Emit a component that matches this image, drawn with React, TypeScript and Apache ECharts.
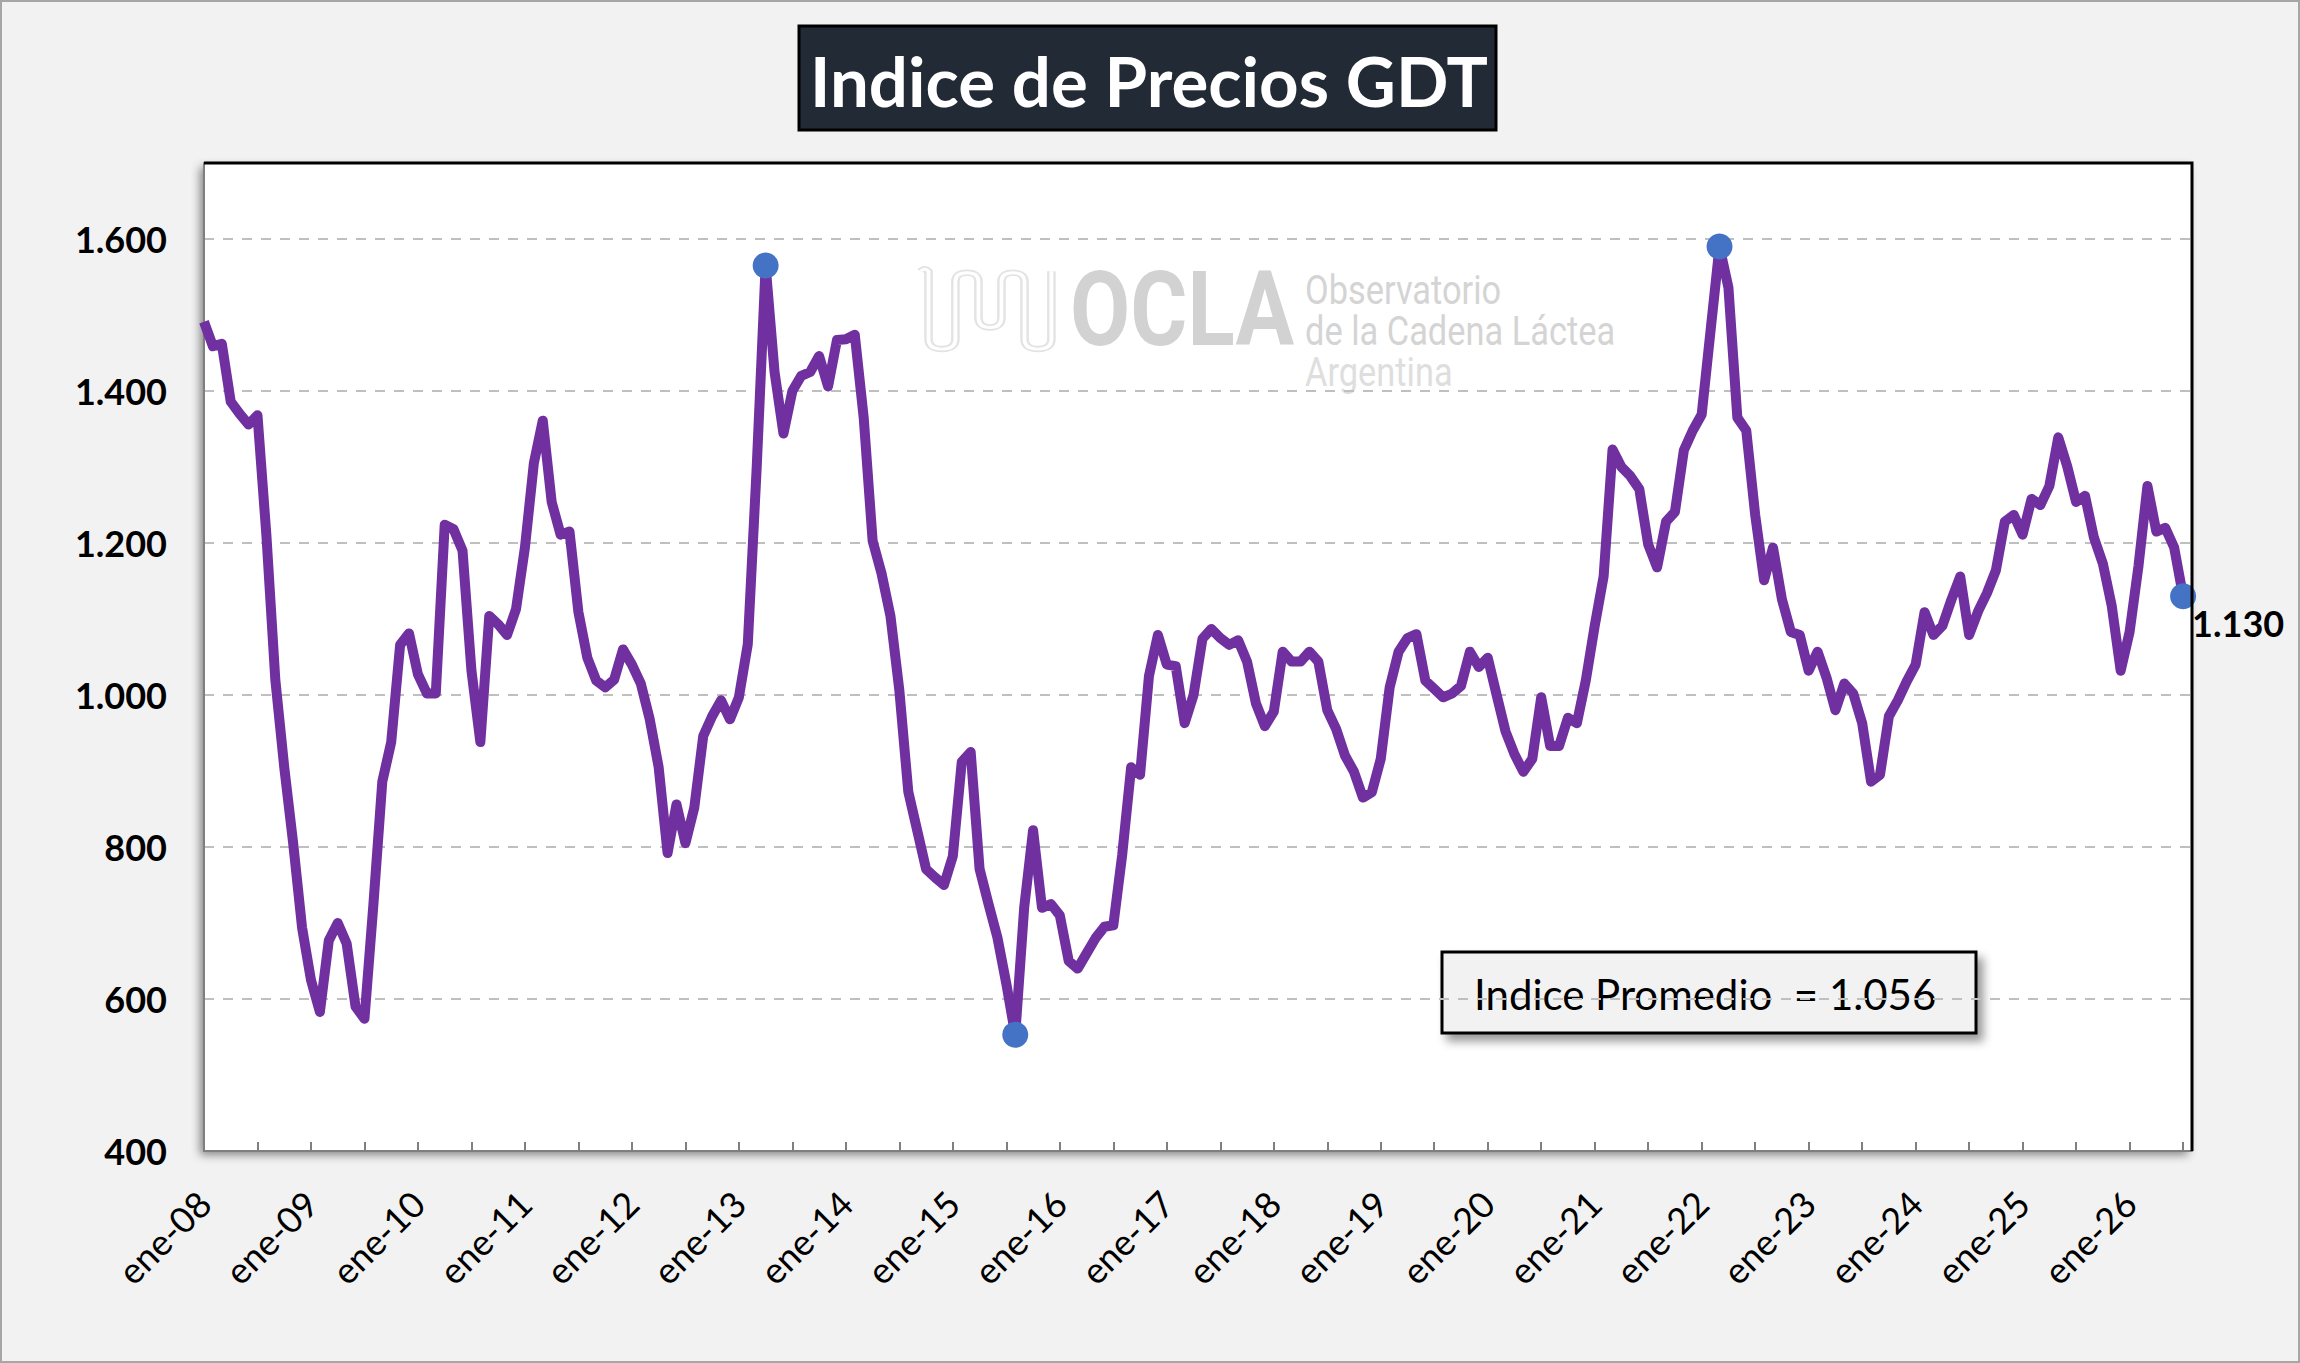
import { useEffect, useRef } from "react";
import * as echarts from "echarts";

const MONTHS = ["ene", "feb", "mar", "abr", "may", "jun", "jul", "ago", "sep", "oct", "nov", "dic"];
const FIRST_YEAR = 2008;
const N_CATEGORIES = 224; // ene-08 .. ago-26 (last slot empty)

// monthly GDT price index, one row per year, from ene-08
const GDT_INDEX = [
  1491, 1459, 1462, 1386, 1370, 1356, 1368, 1210, 1020, 905, 805, 694,
  625, 583, 677, 700, 673, 590, 574, 724, 886, 938, 1066, 1081,
  1027, 1002, 1002, 1224, 1218, 1190, 1032, 938, 1104, 1093, 1079, 1113,
  1194, 1305, 1361, 1254, 1211, 1215, 1109, 1049, 1019, 1010, 1020, 1060,
  1040, 1015, 968, 905, 792, 856, 805, 852, 946, 972, 993, 968,
  997, 1067, 1300, 1565, 1425, 1344, 1400, 1420, 1425, 1446, 1406, 1467,
  1468, 1474, 1365, 1203, 1160, 1104, 1006, 873, 822, 771, 760, 750,
  788, 912, 925, 771, 725, 681, 620, 553, 720, 822, 720, 725,
  710, 650, 640, 660, 680, 695, 697, 790, 905, 895, 1025, 1079,
  1040, 1038, 963, 1000, 1074, 1087, 1075, 1066, 1072, 1044, 989, 959,
  978, 1057, 1044, 1044, 1057, 1044, 980, 955, 920, 899, 865, 872,
  916, 1010, 1057, 1075, 1080, 1019, 1008, 997, 1002, 1012, 1057, 1037,
  1049, 1000, 952, 922, 899, 916, 997, 933, 933, 970, 963, 1019,
  1091, 1156, 1323, 1300, 1288, 1271, 1198, 1168, 1228, 1241, 1322, 1348,
  1369, 1480, 1590, 1536, 1365, 1348, 1237, 1151, 1194, 1126, 1083, 1079,
  1032, 1057, 1023, 980, 1015, 1002, 963, 886, 895, 972, 993, 1018,
  1040, 1109, 1079, 1091, 1125, 1156, 1079, 1110, 1134, 1164, 1228, 1237,
  1211, 1258, 1250, 1275, 1339, 1301, 1254, 1262, 1207, 1173, 1117, 1032,
  1083, 1170, 1275, 1215, 1220, 1194, 1130,
];

// points drawn with a blue marker (maxima, minimum, last value)
const MARKED = [63, 91, 170, GDT_INDEX.length - 1];
const AVERAGE_INDEX = 1056;
const Y_MIN = 400;
const Y_MAX = 1700;
const Y_STEP = 200;

const CATEGORIES = Array.from({ length: N_CATEGORIES }, (_, i) => {
  const yy = String((FIRST_YEAR + Math.floor(i / 12)) % 100).padStart(2, "0");
  return `${MONTHS[i % 12]}-${yy}`;
});

const fmt = (v: number) => String(v).replace(/\B(?=(\d{3})+(?!\d))/g, ".");

const WAVE =
  "M 4 6 Q 8 0 12 6 L 12 100 Q 12 114 26 114 Q 40 114 40 100 L 40 20 Q 40 8 52 8 Q 64 8 64 20 " +
  "L 64 70 Q 64 84 76 84 Q 88 84 88 70 L 88 20 Q 88 8 100 8 Q 112 8 112 20 L 112 100 " +
  "Q 112 114 126 114 Q 140 114 140 100 L 140 6";
echarts.graphic.registerShape("oclaWave", echarts.graphic.extendPath(WAVE, {}));

export default function App() {
  const ref = useRef<HTMLDivElement>(null);

  useEffect(() => {
    document.body.style.margin = "0";
    if (!ref.current) return;
    const chart = echarts.init(ref.current, undefined, { renderer: "svg" });
    const last = GDT_INDEX.length - 1;

    const seriesData: any[] = CATEGORIES.map((_, i) => {
      const v = i < GDT_INDEX.length ? GDT_INDEX[i] : null;
      if (!MARKED.includes(i)) return v;
      const item: any = { value: v, symbol: "circle", symbolSize: 26, itemStyle: { color: "#4472c4" } };
      if (i === last) {
        item.label = {
          show: true,
          position: "right",
          distance: 0,
          offset: [-4, 27],
          formatter: fmt(v as number),
          fontFamily: "Lato",
          fontWeight: "bold",
          fontSize: 36,
          color: "#000",
        };
      }
      return item;
    });

    const wave = (stroke: string, lineWidth: number) =>
      ({
        type: "oclaWave",
        x: 917,
        y: 267,
        scaleX: 0.96,
        scaleY: 0.72,
        style: { fill: "none", stroke, lineWidth },
      }) as any;

    const option: echarts.EChartsOption = {
      animation: false,
      backgroundColor: "#f2f2f2",
      textStyle: { fontFamily: "Lato" },
      grid: {
        left: 204,
        right: 108,
        top: 163,
        bottom: 212,
        show: true,
        backgroundColor: "#ffffff",
        borderWidth: 0,
        shadowColor: "rgba(0,0,0,0.45)",
        shadowBlur: 10,
        shadowOffsetX: -4,
        shadowOffsetY: 4,
      },
      xAxis: {
        type: "category",
        data: CATEGORIES,
        boundaryGap: false,
        axisLine: { lineStyle: { color: "#7f7f7f", width: 2 } },
        axisTick: {
          inside: true,
          length: 9,
          interval: (i: number) => i % 6 === 0,
          lineStyle: { color: "#7f7f7f", width: 2 },
        },
        axisLabel: {
          interval: (i: number) => i % 12 === 0,
          rotate: 45,
          margin: 46,
          fontSize: 36,
          color: "#000",
          fontFamily: "Lato",
        },
        splitLine: { show: false },
      },
      yAxis: {
        type: "value",
        min: Y_MIN,
        max: Y_MAX,
        interval: Y_STEP,
        axisLine: { show: true, lineStyle: { color: "#7f7f7f", width: 2 } },
        axisTick: { show: false },
        axisLabel: {
          formatter: (v: number) => (v > 1600 ? "" : fmt(v)),
          margin: 37,
          fontSize: 36,
          fontWeight: "bold",
          color: "#000",
          fontFamily: "Lato",
        },
        splitLine: { lineStyle: { color: "#bfbfbf", width: 2, type: [10, 9] } },
      },
      series: [
        {
          type: "line",
          data: seriesData,
          symbol: "none",
          showAllSymbol: true,
          connectNulls: false,
          lineStyle: { color: "#7030a0", width: 10, join: "round" } as any,
          itemStyle: { color: "#4472c4" },
          z: 3,
        },
      ],
      graphic: [
        {
          type: "rect",
          z: 0,
          silent: true,
          shape: { x: 1, y: 1, width: 2298, height: 1361 },
          style: { fill: "none", stroke: "#a6a6a6", lineWidth: 2 },
        },
        {
          type: "group",
          z: 1,
          silent: true,
          children: [
            wave("#e3e3e3", 9),
            wave("#ffffff", 4),
            {
              type: "text",
              x: 1070,
              y: 309,
              scaleX: 0.84,
              style: {
                text: "OCLA",
                font: "bold 104px Roboto",
                fill: "#d2d2d2",
                verticalAlign: "middle",
              },
            },
            {
              type: "text",
              x: 1305,
              y: 290,
              scaleX: 0.86,
              style: { text: "Observatorio", font: "40px Roboto", fill: "#d4d4d4", verticalAlign: "middle" },
            },
            {
              type: "text",
              x: 1305,
              y: 331,
              scaleX: 0.86,
              style: { text: "de la Cadena Láctea", font: "40px Roboto", fill: "#d4d4d4", verticalAlign: "middle" },
            },
            {
              type: "text",
              x: 1305,
              y: 372,
              scaleX: 0.86,
              style: { text: "Argentina", font: "40px Roboto", fill: "#dedede", verticalAlign: "middle" },
            },
          ],
        },
        {
          type: "polyline",
          z: 10,
          silent: true,
          shape: { points: [[204, 163], [2192, 163], [2192, 1151]] },
          style: { fill: "none", stroke: "#000", lineWidth: 3 },
        },
        {
          type: "group",
          z: 10,
          silent: true,
          children: [
            {
              type: "rect",
              shape: { x: 799, y: 26, width: 697, height: 104 },
              style: { fill: "#222a35", stroke: "#000", lineWidth: 3 },
            },
            {
              type: "text",
              x: 1149,
              y: 80,
              style: {
                text: "Indice de Precios GDT",
                font: "bold 69px Lato",
                fill: "#ffffff",
                align: "center",
                verticalAlign: "middle",
              },
            },
          ],
        },
        {
          type: "group",
          z: 10,
          silent: true,
          children: [
            {
              type: "rect",
              shape: { x: 1442, y: 952, width: 534, height: 81 },
              style: {
                fill: "#f2f2f2",
                stroke: "#000",
                lineWidth: 3,
                shadowColor: "rgba(0,0,0,0.4)",
                shadowBlur: 10,
                shadowOffsetX: 6,
                shadowOffsetY: 7,
              },
            },
            {
              type: "text",
              x: 1474,
              y: 994,
              style: {
                text: `Indice Promedio  = ${fmt(AVERAGE_INDEX)}`,
                font: "42px Lato",
                fill: "#000",
                verticalAlign: "middle",
              },
            },
          ],
        },
      ],
    };

    chart.setOption(option);
    return () => chart.dispose();
  }, []);

  return <div ref={ref} style={{ width: 2300, height: 1363 }} />;
}
